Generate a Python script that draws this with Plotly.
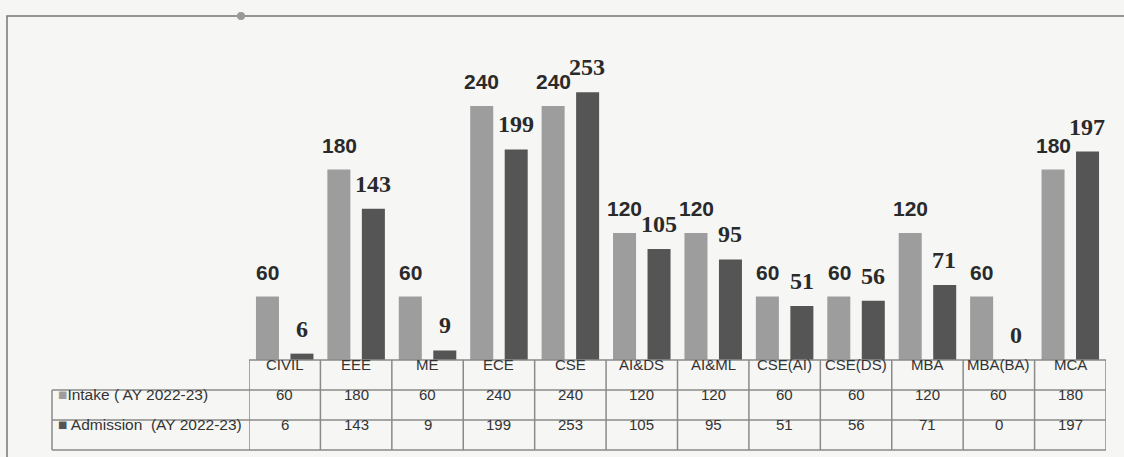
import plotly.graph_objects as go

categories = ["CIVIL", "EEE", "ME", "ECE", "CSE", "AI&DS", "AI&ML", "CSE(AI)", "CSE(DS)", "MBA", "MBA(BA)", "MCA"]
intake = [60, 180, 60, 240, 240, 120, 120, 60, 60, 120, 60, 180]
admission = [6, 143, 9, 199, 253, 105, 95, 51, 56, 71, 0, 197]
series_names = ["Intake ( AY 2022-23)", "Admission  (AY 2022-23)"]

W, H = 1124, 457
L, R, T, B = 249, 1106, 20, 360   # plot area in pixels
PX_PER_UNIT = 1.058
YMAX = (B - T) / PX_PER_UNIT

def px(p):
    return (p - L) / (R - L)

def py(p):
    return (B - p) / (B - T)

C_IN = "#9d9d9d"
C_AD = "#555555"
BG = "#f6f6f4"
LINE = "#8a8a8a"
SANS = "Liberation Sans Narrow, Arial Narrow, Liberation Sans, Arial"
SERIF = "Liberation Serif, Times New Roman, serif"

x_idx = list(range(len(categories)))

fig = go.Figure()
fig.add_trace(go.Bar(x=x_idx, y=intake, name=series_names[0], marker_color=C_IN,
                     marker_line_width=0, hoverinfo="skip"))
fig.add_trace(go.Bar(x=x_idx, y=admission, name=series_names[1], marker_color=C_AD,
                     marker_line_width=0, hoverinfo="skip"))

ann = []
for i, v in enumerate(intake):
    ann.append(dict(x=i, y=v, xref="x", yref="y", text=f"<b>{v}</b>", showarrow=False,
                    xshift=-17, yshift=11, yanchor="bottom",
                    font=dict(family=SANS, size=21, color="#2a2a2a")))
for i, v in enumerate(admission):
    ann.append(dict(x=i, y=v, xref="x", yref="y", text=f"<b>{v}</b>", showarrow=False,
                    xshift=17, yshift=10, yanchor="bottom",
                    font=dict(family=SERIF, size=24, color="#2a2a2a")))

# table geometry (pixels)
ROW = [360, 390, 420, 450]
LABEL_LEFT = 52

shapes = []
# outer frame
shapes.append(dict(type="rect", xref="paper", yref="paper", x0=px(7), x1=px(1135),
                   y0=py(470), y1=py(16), line=dict(color="#777777", width=1.5)))
# horizontal lines
shapes.append(dict(type="line", xref="x", yref="paper", x0=-0.5, x1=len(categories) - 0.5,
                   y0=py(ROW[0]), y1=py(ROW[0]), line=dict(color=LINE, width=1.5)))
for r in ROW[1:]:
    shapes.append(dict(type="line", xref="paper", yref="paper", x0=px(LABEL_LEFT), x1=1,
                       y0=py(r), y1=py(r), line=dict(color=LINE, width=1.5)))
# vertical lines
for i in range(len(categories) + 1):
    shapes.append(dict(type="line", xref="x", yref="paper", x0=i - 0.5, x1=i - 0.5,
                       y0=py(ROW[0]), y1=py(ROW[3]), line=dict(color=LINE, width=1.5)))
shapes.append(dict(type="line", xref="paper", yref="paper", x0=px(LABEL_LEFT), x1=px(LABEL_LEFT),
                   y0=py(ROW[1]), y1=py(ROW[3]), line=dict(color=LINE, width=1.5)))
# small pin mark on the frame
shapes.append(dict(type="circle", xref="paper", yref="paper", x0=px(237), x1=px(245),
                   y0=py(20), y1=py(12), fillcolor="#999999", line=dict(width=0)))

TF = dict(family=SANS, size=15, color="#333333")
LF = dict(family=SANS, size=15.5, color="#333333")
def mid(a, b):
    return py((a + b) / 2)

for i, c in enumerate(categories):
    ann.append(dict(x=i, y=mid(ROW[0], ROW[1]), xref="x", yref="paper", text=c,
                    showarrow=False, font=TF))
    ann.append(dict(x=i, y=mid(ROW[1], ROW[2]), xref="x", yref="paper", text=str(intake[i]),
                    showarrow=False, font=TF))
    ann.append(dict(x=i, y=mid(ROW[2], ROW[3]), xref="x", yref="paper", text=str(admission[i]),
                    showarrow=False, font=TF))

ann.append(dict(x=px(56), y=mid(ROW[1], ROW[2]), xref="paper", yref="paper", xanchor="left",
                text=f"<span style='color:{C_IN}'>■</span>{series_names[0]}",
                showarrow=False, font=LF))
ann.append(dict(x=px(56), y=mid(ROW[2], ROW[3]), xref="paper", yref="paper", xanchor="left",
                text=f"<span style='color:{C_AD}'>■</span> {series_names[1]}",
                showarrow=False, font=LF))

fig.update_layout(
    width=W, height=H, autosize=False,
    margin=dict(l=L, r=W - R, t=T, b=H - B, pad=0),
    paper_bgcolor=BG, plot_bgcolor=BG,
    barmode="group", bargap=0.034, bargroupgap=0.333,
    showlegend=False,
    xaxis=dict(range=[-0.5, len(categories) - 0.5], visible=False, fixedrange=True),
    yaxis=dict(range=[0, YMAX], visible=False, fixedrange=True),
    annotations=ann, shapes=shapes,
)

fig.write_html("out.html", config={"displayModeBar": False},
               post_script="document.body.style.margin='0';")
